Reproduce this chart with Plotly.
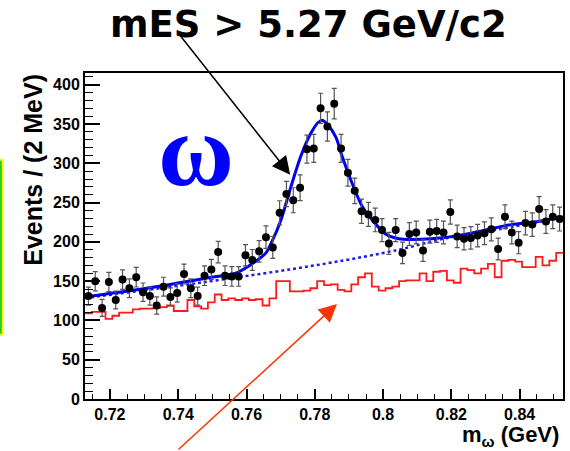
import numpy as np
import plotly.graph_objects as go

# 70 bins of 2 MeV around the omega mass
x_lo, x_hi = 0.7127, 0.8527
n_bins = 70
bin_w = (x_hi - x_lo) / n_bins
bin_edges = [x_lo + bin_w * i for i in range(n_bins + 1)]
bin_centers = [x_lo + bin_w * (i + 0.5) for i in range(n_bins)]

# Data: events per bin
events = [131, 150, 116, 149, 126, 152, 141, 155, 136, 131,
          119, 143, 130, 135, 159, 141, 131, 157, 165, 187,
          157, 156, 156, 183, 177, 188, 206, 193, 237, 261,
          253, 269, 318, 319, 370, 347, 376, 319, 288, 265,
          239, 235, 228, 215, 198, 215, 186, 210, 212, 189,
          213, 214, 212, 238, 207, 204, 205, 208, 211, 216,
          191, 232, 212, 199, 224, 222, 242, 226, 232, 229]

# Sideband (red histogram)
sideband = [109, 111, 111, 102, 106, 110, 110, 114, 115, 115,
            116, 117, 119, 112, 112, 126, 118, 115, 123, 133,
            126, 128, 126, 128, 126, 127, 119, 128, 150, 150,
            137, 137, 138, 141, 150, 145, 146, 139, 137, 146,
            155, 160, 143, 138, 141, 143, 150, 151, 151, 160,
            150, 162, 163, 151, 148, 166, 164, 160, 166, 172,
            155, 176, 177, 175, 168, 168, 181, 170, 176, 186]

# Fit result: total curve and background component
fit_x = [0.7127, 0.7307, 0.7477, 0.7573, 0.7623, 0.7657, 0.7672, 0.7701,
         0.7730, 0.7759, 0.7788, 0.7810, 0.7822, 0.7834, 0.7861, 0.7880,
         0.7909, 0.7939, 0.7968, 0.8007, 0.8046, 0.8084, 0.8142, 0.8221,
         0.8298, 0.8375, 0.8454, 0.8527]
fit_y = [130, 141, 153.5, 161, 174, 186, 198, 228,
         270, 309, 338, 352, 355, 351, 334, 309,
         275, 245, 228, 210, 204, 203, 204, 208,
         215, 222, 226, 232]
bkg_x = [0.7127, 0.7463, 0.7827, 0.8046, 0.8177, 0.8338, 0.8527]
bkg_y = [128.5, 148, 172, 190, 204, 216, 231]

x_tickvals = [0.72, 0.74, 0.76, 0.78, 0.80, 0.82, 0.84]
x_ticktext = ["0.72", "0.74", "0.76", "0.78", "0.8", "0.82", "0.84"]
y_tickvals = [0, 50, 100, 150, 200, 250, 300, 350, 400]
y_ticktext = ["0", "50", "100", "150", "200", "250", "300", "350", "400"]

errors = np.sqrt(np.array(events, dtype=float))

fig = go.Figure()

fig.add_trace(go.Scatter(
    x=bin_edges, y=sideband + [sideband[-1]], mode="lines",
    line=dict(color="#ff1a1a", width=1.8, shape="hv"),
    hoverinfo="skip", showlegend=False))

fig.add_trace(go.Scatter(
    x=bkg_x, y=bkg_y, mode="lines",
    line=dict(color="#1a1aff", width=2.5, dash="dot", shape="spline"),
    showlegend=False))

fig.add_trace(go.Scatter(
    x=fit_x, y=fit_y, mode="lines",
    line=dict(color="#0000f0", width=3, shape="spline", smoothing=0.8),
    showlegend=False))

fig.add_trace(go.Scatter(
    x=bin_centers, y=events, mode="markers",
    marker=dict(color="black", size=8, symbol="circle"),
    error_y=dict(type="data", array=errors, color="#555555",
                 thickness=1.2, width=2.5),
    showlegend=False))

font_b = "Liberation Sans, Arial, sans-serif"

fig.update_xaxes(
    range=[x_lo, x_hi], tickvals=x_tickvals, ticktext=x_ticktext,
    ticks="inside", ticklen=10, tickwidth=1.5, tickcolor="black",
    minor=dict(dtick=0.005, tick0=0.72, ticks="inside", ticklen=5,
               tickwidth=1, tickcolor="black"),
    showline=True, linecolor="black", linewidth=2, mirror=True,
    showgrid=False, zeroline=False,
    tickfont=dict(family=font_b, size=16, color="black", weight="bold"))

fig.update_yaxes(
    range=[0, 415], tickvals=y_tickvals, ticktext=y_ticktext,
    ticks="inside", ticklen=15, tickwidth=1.5, tickcolor="black",
    minor=dict(dtick=10, tick0=0, ticks="inside", ticklen=8,
               tickwidth=1, tickcolor="black"),
    showline=True, linecolor="black", linewidth=2, mirror=True,
    showgrid=False, zeroline=False,
    tickfont=dict(family=font_b, size=16, color="black", weight="bold"))

annotations = [
    dict(text="mES > 5.27 GeV/c2", xref="paper", yref="paper",
         x=0.4667, y=1.148, xanchor="center", yanchor="middle",
         showarrow=False,
         font=dict(family="DejaVu Sans, sans-serif", size=37,
                   color="black", weight="bold")),
    dict(text="ω", xref="paper", yref="paper", x=0.233, y=0.765,
         xanchor="center", yanchor="middle", showarrow=False,
         font=dict(family="Liberation Serif, serif", size=104,
                   color="#0000ff", weight="bold")),
    dict(text="Events / (2 MeV)", xref="paper", yref="paper",
         x=-0.109, y=0.703, xanchor="center", yanchor="middle",
         textangle=-90, showarrow=False,
         font=dict(family=font_b, size=25, color="black", weight="bold")),
    dict(text="m<sub>ω</sub> (GeV)", xref="paper", yref="paper",
         x=0.996, y=-0.114, xanchor="right", yanchor="middle",
         showarrow=False,
         font=dict(family=font_b, size=22, color="black", weight="bold")),
    dict(text="", xref="x", yref="y", x=0.7728, y=285.5,
         axref="pixel", ayref="pixel", ax=-113, ay=-143,
         showarrow=True, arrowhead=2, arrowsize=2.4, arrowwidth=1.5,
         arrowcolor="black"),
    dict(text="", xref="x", yref="y", x=0.7865, y=121,
         axref="pixel", ayref="pixel", ax=-160, ay=147,
         showarrow=True, arrowhead=2, arrowsize=2.4, arrowwidth=1.5,
         arrowcolor="#ff3300"),
]

shapes = [
    dict(type="rect", xref="paper", yref="paper",
         x0=-0.2, x1=-0.172, y0=0.197, y1=0.734,
         line=dict(color="#ffff00", width=2), fillcolor="#22cc22",
         layer="above"),
]

fig.update_layout(
    width=570, height=451, autosize=False,
    margin=dict(l=85, r=5, t=73, b=52),
    paper_bgcolor="white", plot_bgcolor="white",
    annotations=annotations, shapes=shapes, showlegend=False)

fig.write_html("out.html")
